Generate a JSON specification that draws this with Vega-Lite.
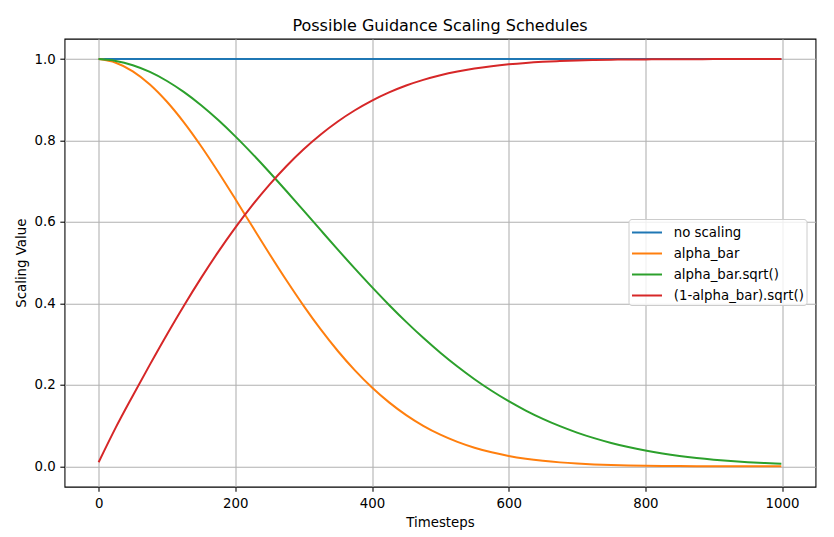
{
  "$schema": "https://vega.github.io/schema/vega-lite/v6.json",
  "width": 751,
  "height": 448,
  "autosize": {"type": "none"},
  "padding": {"left": 64.5, "top": 38.7, "right": 18.5, "bottom": 50.3},
  "background": "white",
  "title": {"text": "Possible Guidance Scaling Schedules"},
  "data": {
    "values": [
      {"t": 0, "n": 1, "a": 0.9999, "s": 0.99995, "r": 0.0100},
      {"t": 25, "n": 1, "a": 0.99097, "s": 0.99547, "r": 0.0950},
      {"t": 50, "n": 1, "a": 0.96995, "s": 0.98486, "r": 0.1734},
      {"t": 75, "n": 1, "a": 0.93763, "s": 0.96832, "r": 0.2497},
      {"t": 100, "n": 1, "a": 0.89514, "s": 0.94612, "r": 0.3238},
      {"t": 125, "n": 1, "a": 0.84399, "s": 0.91869, "r": 0.3950},
      {"t": 150, "n": 1, "a": 0.78589, "s": 0.88650, "r": 0.4627},
      {"t": 175, "n": 1, "a": 0.72270, "s": 0.85012, "r": 0.5266},
      {"t": 200, "n": 1, "a": 0.65635, "s": 0.81015, "r": 0.5862},
      {"t": 225, "n": 1, "a": 0.58868, "s": 0.76725, "r": 0.6413},
      {"t": 250, "n": 1, "a": 0.52143, "s": 0.72210, "r": 0.6918},
      {"t": 275, "n": 1, "a": 0.45611, "s": 0.67536, "r": 0.7375},
      {"t": 300, "n": 1, "a": 0.39402, "s": 0.62770, "r": 0.7785},
      {"t": 325, "n": 1, "a": 0.33613, "s": 0.57977, "r": 0.8148},
      {"t": 350, "n": 1, "a": 0.28319, "s": 0.53215, "r": 0.8467},
      {"t": 375, "n": 1, "a": 0.23561, "s": 0.48539, "r": 0.8743},
      {"t": 400, "n": 1, "a": 0.19358, "s": 0.43997, "r": 0.8980},
      {"t": 425, "n": 1, "a": 0.15706, "s": 0.39631, "r": 0.9181},
      {"t": 450, "n": 1, "a": 0.12584, "s": 0.35474, "r": 0.9350},
      {"t": 475, "n": 1, "a": 0.09957, "s": 0.31555, "r": 0.9489},
      {"t": 500, "n": 1, "a": 0.07780, "s": 0.27893, "r": 0.9603},
      {"t": 525, "n": 1, "a": 0.06003, "s": 0.24501, "r": 0.9695},
      {"t": 550, "n": 1, "a": 0.04574, "s": 0.21387, "r": 0.9769},
      {"t": 575, "n": 1, "a": 0.03442, "s": 0.18551, "r": 0.9826},
      {"t": 600, "n": 1, "a": 0.02557, "s": 0.15991, "r": 0.9871},
      {"t": 625, "n": 1, "a": 0.01876, "s": 0.13697, "r": 0.9906},
      {"t": 650, "n": 1, "a": 0.01359, "s": 0.11659, "r": 0.9932},
      {"t": 675, "n": 1, "a": 0.00972, "s": 0.09861, "r": 0.9951},
      {"t": 700, "n": 1, "a": 0.00687, "s": 0.08288, "r": 0.9966},
      {"t": 725, "n": 1, "a": 0.00479, "s": 0.06923, "r": 0.9976},
      {"t": 750, "n": 1, "a": 0.00330, "s": 0.05745, "r": 0.9984},
      {"t": 775, "n": 1, "a": 0.00225, "s": 0.04738, "r": 0.9989},
      {"t": 800, "n": 1, "a": 0.00151, "s": 0.03883, "r": 0.9992},
      {"t": 825, "n": 1, "a": 0.00100, "s": 0.03162, "r": 0.9995},
      {"t": 850, "n": 1, "a": 0.00066, "s": 0.02559, "r": 0.9997},
      {"t": 875, "n": 1, "a": 0.00042, "s": 0.02058, "r": 0.9998},
      {"t": 900, "n": 1, "a": 0.00027, "s": 0.01644, "r": 0.9999},
      {"t": 925, "n": 1, "a": 0.00017, "s": 0.01305, "r": 0.9999},
      {"t": 950, "n": 1, "a": 0.00011, "s": 0.01030, "r": 0.9999},
      {"t": 975, "n": 1, "a": 0.00007, "s": 0.00808, "r": 1.0000},
      {"t": 999, "n": 1, "a": 0.00004, "s": 0.00636, "r": 1.0000}
    ]
  },
  "transform": [
    {"fold": ["n", "a", "s", "r"], "as": ["series", "value"]}
  ],
  "mark": {"type": "line", "strokeWidth": 2, "interpolate": "monotone", "clip": true},
  "encoding": {
    "x": {
      "field": "t",
      "type": "quantitative",
      "title": "Timesteps",
      "scale": {"domain": [-49.95, 1048.95], "nice": false, "zero": false},
      "axis": {"values": [0, 200, 400, 600, 800, 1000], "format": "d", "labelPadding": 5.5}
    },
    "y": {
      "field": "value",
      "type": "quantitative",
      "title": "Scaling Value",
      "scale": {"domain": [-0.05, 1.05], "nice": false, "zero": false},
      "axis": {"values": [0, 0.2, 0.4, 0.6, 0.8, 1.0], "format": ".1f"}
    },
    "color": {
      "field": "series",
      "type": "nominal",
      "scale": {
        "domain": ["n", "a", "s", "r"],
        "range": ["#1f77b4", "#ff7f0e", "#2ca02c", "#d62728"]
      },
      "legend": {
        "title": null,
        "labelExpr": "datum.label == 'n' ? 'no scaling' : datum.label == 'a' ? 'alpha_bar' : datum.label == 's' ? 'alpha_bar.sqrt()' : '(1-alpha_bar).sqrt()'"
      }
    }
  },
  "config": {
    "font": "DejaVu Sans",
    "view": {"stroke": "black", "strokeWidth": 1.07},
    "title": {
      "font": "DejaVu Sans",
      "fontSize": 16,
      "fontWeight": "normal",
      "color": "black",
      "anchor": "middle",
      "baseline": "alphabetic",
      "offset": 5
    },
    "axis": {
      "labelFont": "DejaVu Sans",
      "labelFontSize": 13.33,
      "labelColor": "black",
      "titleFont": "DejaVu Sans",
      "titleFontSize": 13.33,
      "titleFontWeight": "normal",
      "titleColor": "black",
      "titlePadding": 5.3,
      "domain": false,
      "ticks": true,
      "tickColor": "black",
      "tickSize": 4.67,
      "tickWidth": 1.07,
      "labelPadding": 4.67,
      "grid": true,
      "gridColor": "#b0b0b0",
      "gridWidth": 1.07,
      "labelFlush": false,
      "labelOverlap": false
    },
    "legend": {
      "orient": "none",
      "legendX": 564,
      "legendY": 180.3,
      "labelFont": "DejaVu Sans",
      "labelFontSize": 13.33,
      "labelColor": "black",
      "symbolType": "M-1,0H2",
      "symbolSize": 400,
      "symbolStrokeWidth": 2,
      "labelOffset": 20.7,
      "rowPadding": 3,
      "padding": 2.5,
      "fillColor": "rgba(255,255,255,0.8)",
      "strokeColor": "#cccccc",
      "cornerRadius": 3
    }
  }
}
